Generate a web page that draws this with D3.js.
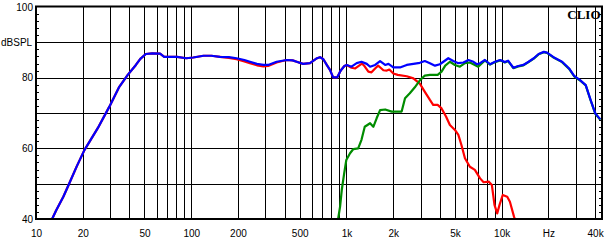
<!DOCTYPE html>
<html>
<head>
<meta charset="utf-8">
<script src="https://cdn.jsdelivr.net/npm/d3@7"></script>
<style>
  html, body { margin: 0; padding: 0; background: #fff; }
  svg { display: block; }
</style>
</head>
<body>
<svg id="chart"></svg>
<script>
// frequency response (Hz / dB SPL)
const totalFreq = [12.7, 13.5, 15, 16.4, 18.3, 20.5, 25, 29.7, 34.4, 39, 44, 47, 51, 56, 63, 67, 75, 81, 93, 103, 120, 135, 153, 175, 196, 220, 239, 265, 292, 313, 355, 412, 450, 478, 525, 582, 640, 676, 710, 750, 783, 821, 873, 910, 933, 970, 1005, 1078, 1164, 1250, 1352, 1420, 1530, 1647, 1776, 1865, 2005, 2213, 2445, 2700, 2970, 3200, 3450, 3720, 4000, 4530, 4880, 5260, 5670, 6110, 6580, 6920, 7260, 7800, 8420, 9060, 9770, 10500, 11000, 11900, 12800, 13800, 14900, 16100, 17300, 18700, 19600, 21600, 24500, 27200, 29300, 32000, 34800, 37400, 40100, 43200];
const totalDb = [40, 42.5, 46.3, 50.1, 54.9, 59.5, 65.7, 71.8, 77.4, 80.8, 83.6, 85.3, 86.7, 86.9, 86.8, 85.9, 85.9, 85.9, 85.5, 85.7, 86.2, 86.2, 85.9, 85.8, 85.5, 85.0, 84.5, 83.9, 83.6, 83.6, 84.5, 85.0, 84.9, 84.5, 83.9, 84.1, 85.4, 85.8, 85.2, 83.5, 82.2, 80.1, 80.1, 81.7, 82.4, 83.3, 83.6, 83.1, 84.1, 84.5, 83.9, 83.1, 83.6, 84.7, 83.6, 83.9, 82.9, 82.9, 83.6, 83.9, 84.2, 84.7, 84.1, 83.4, 83.8, 85.5, 84.7, 84.1, 84.3, 85.0, 84.5, 83.8, 84.1, 85.0, 83.8, 84.5, 85.0, 84.4, 84.8, 82.8, 83.3, 83.6, 84.5, 85.5, 86.7, 87.3, 87.1, 85.8, 84.5, 82.6, 80.5, 79.3, 77.9, 73.7, 69.9, 68.2];

const wooferFreq = [12.7, 13.5, 15, 16.4, 18.3, 20.5, 25, 29.7, 34.4, 39, 44, 47, 51, 56, 63, 67, 75, 81, 93, 103, 120, 135, 153, 175, 196, 220, 239, 265, 292, 313, 355, 412, 450, 478, 525, 582, 640, 676, 710, 750, 783, 821, 873, 910, 933, 970, 1005, 1078, 1140, 1225, 1260, 1310, 1384, 1450, 1530, 1600, 1680, 1730, 1820, 1890, 2005, 2140, 2445, 2700, 2970, 3200, 3450, 3620, 3870, 4100, 4380, 4640, 5000, 5260, 5500, 5800, 6240, 6720, 7260, 7650, 8240, 8650, 8990, 9360, 9690, 10160, 10860, 11300, 12020, 12400];
const wooferDb = [40, 42.5, 46.3, 50.1, 54.9, 59.5, 65.7, 71.8, 77.4, 80.8, 83.6, 85.3, 86.7, 86.9, 86.8, 85.9, 85.9, 85.9, 85.5, 85.7, 86.2, 86.2, 85.9, 85.6, 85.2, 84.6, 84.1, 83.5, 83.2, 83.3, 84.3, 85.0, 84.9, 84.5, 83.9, 84.1, 85.4, 85.8, 85.2, 83.5, 82.2, 80.1, 80.1, 81.7, 82.4, 83.3, 83.6, 82.8, 82.6, 83.6, 84.0, 83.2, 81.7, 81.5, 82.6, 83.4, 82.6, 82.1, 82.0, 82.3, 81.2, 80.8, 80.4, 79.8, 78.3, 76.0, 73.7, 72.3, 72.3, 71.3, 69.0, 66.6, 65.2, 63.8, 61.0, 57.2, 54.8, 53.9, 51.5, 50.4, 50.6, 49.6, 44.0, 41.6, 44.0, 46.8, 46.3, 44.9, 40.6, 39.0];

const tweeterFreq = [880, 910, 933, 967, 998, 1055, 1108, 1190, 1250, 1312, 1420, 1490, 1565, 1647, 1776, 1957, 2268, 2385, 2560, 2750, 2980, 3200, 3450, 3870, 4100, 4330, 4640, 5000, 5380, 5800, 6240, 6720, 7060, 7800, 8420, 9060, 9770, 10500, 11000, 11900, 12800, 13800, 14900, 16100, 17300, 18700, 19600, 21600, 24500, 27200, 29300, 32000, 34800, 37400, 40100, 43200];
const tweeterDb = [39.5, 43.5, 48.2, 52.9, 56.7, 58.6, 59.8, 60.0, 62.4, 66.1, 67.1, 66.1, 68.5, 70.8, 71.0, 70.4, 70.4, 74.2, 75.6, 77.2, 79.3, 80.6, 80.8, 80.8, 81.7, 83.4, 84.5, 83.6, 83.1, 84.1, 84.3, 83.6, 83.1, 84.9, 83.7, 84.4, 84.9, 84.3, 84.7, 82.7, 83.2, 83.5, 84.4, 85.4, 86.6, 87.2, 87.0, 85.7, 84.4, 82.5, 80.4, 79.2, 77.8, 73.6, 69.8, 68.1];

// axis ticks and labels
const xLabelValues = [10, 20, 50, 100, 200, 500, 1000, 2000, 5000, 10000, 20000, 40000];
const xLabelText = ['10', '20', '50', '100', '200', '500', '1k', '2k', '5k', '10k', 'Hz', '40k'];
const xGridValues = [20, 30, 40, 50, 60, 70, 80, 90, 100, 200, 300, 400, 500, 600, 700, 800, 900,
  1000, 2000, 3000, 4000, 5000, 6000, 7000, 8000, 9000, 10000, 20000, 30000, 40000];
const yLabelValues = [40, 60, 80, 90, 100];
const yLabelText = ['40', '60', '80', 'dBSPL', '100'];
const yGridValues = [50, 60, 70, 80, 90];
const yMinorValues = d3.range(42, 100, 2);

const width = 608;
const height = 243;
const plotLeft = 36, plotRight = 602, plotTop = 7, plotBottom = 219;

const svg = d3.select('#chart')
  .attr('width', width)
  .attr('height', height);

const x = d3.scaleLog().domain([10, 44300]).range([plotLeft, plotRight]);
const y = d3.scaleLinear().domain([40, 100]).range([plotBottom, plotTop]);

const font = '"Liberation Sans", Arial, sans-serif';

// grid lines
svg.append('g')
  .attr('transform', `translate(0,${plotBottom})`)
  .call(d3.axisBottom(x).tickValues(xGridValues).tickSize(-(plotBottom - plotTop)).tickFormat(''))
  .call(g => g.select('.domain').remove())
  .call(g => g.selectAll('line').attr('stroke', '#000').attr('shape-rendering', 'crispEdges'));

svg.append('g')
  .attr('transform', `translate(${plotLeft},0)`)
  .call(d3.axisLeft(y).tickValues(yGridValues).tickSize(-(plotRight - plotLeft)).tickFormat(''))
  .call(g => g.select('.domain').remove())
  .call(g => g.selectAll('line').attr('stroke', '#000').attr('shape-rendering', 'crispEdges'));

// small 2 dB ticks inside left and right borders
svg.append('g')
  .attr('transform', `translate(${plotLeft},0)`)
  .call(d3.axisLeft(y).tickValues(yMinorValues).tickSize(-3).tickFormat(''))
  .call(g => g.select('.domain').remove())
  .call(g => g.selectAll('line').attr('stroke', '#000').attr('shape-rendering', 'crispEdges'));

svg.append('g')
  .attr('transform', `translate(${plotRight},0)`)
  .call(d3.axisRight(y).tickValues(yMinorValues).tickSize(-3).tickFormat(''))
  .call(g => g.select('.domain').remove())
  .call(g => g.selectAll('line').attr('stroke', '#000').attr('shape-rendering', 'crispEdges'));

// curves
svg.append('clipPath').attr('id', 'plot-clip')
  .append('rect')
  .attr('x', plotLeft).attr('y', plotTop)
  .attr('width', plotRight - plotLeft).attr('height', plotBottom - plotTop);

const line = d3.line()
  .x(d => x(d[0]))
  .y(d => y(d[1]));

const series = [
  { f: wooferFreq, v: wooferDb, color: '#ff0000' },
  { f: tweeterFreq, v: tweeterDb, color: '#008c00' },
  { f: totalFreq, v: totalDb, color: '#0000ff' }
];

const curves = svg.append('g').attr('clip-path', 'url(#plot-clip)');
series.forEach(s => {
  curves.append('path')
    .datum(d3.zip(s.f, s.v))
    .attr('fill', 'none')
    .attr('stroke', s.color)
    .attr('stroke-width', 2.2)
    .attr('stroke-linejoin', 'round')
    .attr('d', line);
});

// frame
svg.append('rect')
  .attr('x', plotLeft).attr('y', plotTop - 0.5)
  .attr('width', plotRight - plotLeft).attr('height', plotBottom - plotTop + 0.5)
  .attr('fill', 'none')
  .attr('stroke', '#000')
  .attr('stroke-width', 2);

// labels
svg.append('g')
  .attr('transform', `translate(0,${plotBottom})`)
  .call(d3.axisBottom(x).tickValues(xLabelValues).tickSize(0).tickPadding(11)
    .tickFormat((d, i) => xLabelText[i]))
  .call(g => g.select('.domain').remove())
  .call(g => g.selectAll('text').attr('font-family', font).attr('font-size', 10).attr('fill', '#000'));

// the dBSPL unit label sits flush left instead of against the axis
svg.append('g')
  .attr('transform', `translate(${plotLeft},0)`)
  .call(d3.axisLeft(y).tickValues(yLabelValues).tickSize(0).tickPadding(3)
    .tickFormat((d, i) => yLabelText[i]))
  .call(g => g.select('.domain').remove())
  .call(g => g.selectAll('text').attr('font-family', font).attr('font-size', 10).attr('fill', '#000'))
  .call(g => g.selectAll('text').filter(d => d === 90)
    .attr('text-anchor', 'start').attr('x', 1 - plotLeft));

svg.append('text')
  .attr('x', 600.5)
  .attr('y', 18.5)
  .attr('text-anchor', 'end')
  .attr('font-family', '"Liberation Serif", "Times New Roman", serif')
  .attr('font-weight', 'bold')
  .attr('font-size', 13)
  .text('CLIO');
</script>
</body>
</html>
